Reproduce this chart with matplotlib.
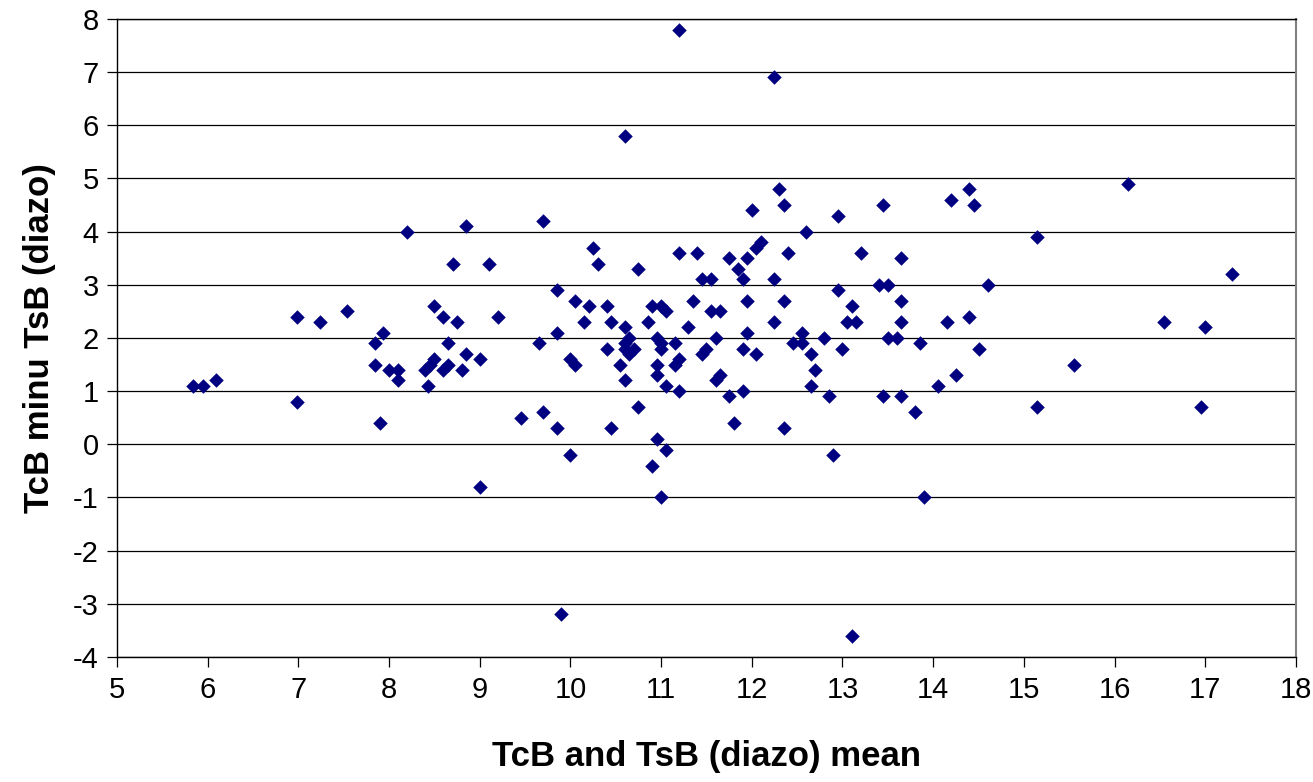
import matplotlib
matplotlib.use("Agg")
import matplotlib.pyplot as plt

# ── Data ──────────────────────────────────────────────────────────────────────

mean_vals = [
    5.84, 5.95, 6.09, 6.98, 6.98, 7.24, 7.54, 7.84, 7.93, 7.84,
    7.90, 8.00, 8.10, 8.10, 8.20, 8.40, 8.43, 8.50, 8.50, 8.45,
    8.60, 8.65, 8.65, 8.70, 8.60, 8.75, 8.80, 8.85, 8.85, 9.00,
    9.00, 9.10, 9.20, 9.45, 9.65, 9.70, 9.70, 9.85, 9.85, 9.85,
    9.90, 10.00, 10.00, 10.05, 10.05, 10.15, 10.20, 10.25, 10.30, 10.40,
    10.40, 10.45, 10.45, 10.55, 10.60, 10.60, 10.60, 10.60, 10.60, 10.65,
    10.65, 10.70, 10.75, 10.75, 10.85, 10.90, 10.90, 10.95, 10.95, 10.95,
    10.95, 11.00, 11.00, 11.00, 11.00, 11.05, 11.05, 11.05, 11.15, 11.15,
    11.20, 11.20, 11.20, 11.20, 11.30, 11.35, 11.40, 11.45, 11.45, 11.50,
    11.55, 11.55, 11.60, 11.60, 11.65, 11.65, 11.75, 11.75, 11.80, 11.85,
    11.90, 11.90, 11.90, 11.95, 11.95, 11.95, 12.00, 12.05, 12.05, 12.10,
    12.25, 12.25, 12.25, 12.30, 12.35, 12.35, 12.35, 12.40, 12.45, 12.55,
    12.55, 12.60, 12.65, 12.65, 12.70, 12.80, 12.85, 12.90, 12.95, 12.95,
    13.00, 13.05, 13.10, 13.10, 13.15, 13.20, 13.40, 13.45, 13.45, 13.50,
    13.50, 13.60, 13.65, 13.65, 13.65, 13.65, 13.80, 13.85, 13.90, 14.05,
    14.15, 14.20, 14.25, 14.40, 14.40, 14.45, 14.50, 14.60, 15.15, 15.15,
    15.55, 16.15, 16.55, 16.95, 17.00, 17.30,
]

diff_vals = [
    1.1, 1.1, 1.2, 2.4, 0.8, 2.3, 2.5, 1.9, 2.1, 1.5,
    0.4, 1.4, 1.4, 1.2, 4.0, 1.4, 1.1, 2.6, 1.6, 1.5,
    2.4, 1.5, 1.9, 3.4, 1.4, 2.3, 1.4, 1.7, 4.1, 1.6,
    -0.8, 3.4, 2.4, 0.5, 1.9, 4.2, 0.6, 2.9, 2.1, 0.3,
    -3.2, 1.6, -0.2, 2.7, 1.5, 2.3, 2.6, 3.7, 3.4, 2.6,
    1.8, 2.3, 0.3, 1.5, 2.2, 1.9, 1.2, 1.8, 5.8, 2.0,
    1.7, 1.8, 3.3, 0.7, 2.3, 2.6, -0.4, 2.0, 1.5, 1.3,
    0.1, 2.6, 1.9, 1.8, -1.0, 2.5, 1.1, -0.1, 1.9, 1.5,
    3.6, 1.6, 1.0, 7.8, 2.2, 2.7, 3.6, 3.1, 1.7, 1.8,
    2.5, 3.1, 2.0, 1.2, 2.5, 1.3, 0.9, 3.5, 0.4, 3.3,
    1.8, 1.0, 3.1, 3.5, 2.7, 2.1, 4.4, 3.7, 1.7, 3.8,
    3.1, 2.3, 6.9, 4.8, 4.5, 2.7, 0.3, 3.6, 1.9, 2.1,
    1.9, 4.0, 1.7, 1.1, 1.4, 2.0, 0.9, -0.2, 4.3, 2.9,
    1.8, 2.3, 2.6, -3.6, 2.3, 3.6, 3.0, 4.5, 0.9, 3.0,
    2.0, 2.0, 3.5, 2.7, 2.3, 0.9, 0.6, 1.9, -1.0, 1.1,
    2.3, 4.6, 1.3, 4.8, 2.4, 4.5, 1.8, 3.0, 3.9, 0.7,
    1.5, 4.9, 2.3, 0.7, 2.2, 3.2,
]

x_ticks = list(range(5, 19))
y_ticks = list(range(-4, 9))

x_label = "TcB and TsB (diazo) mean"
y_label = "TcB minu TsB (diazo)"

# ── Plot ──────────────────────────────────────────────────────────────────────

plt.rcParams['font.family'] = ['Liberation Sans', 'DejaVu Sans']
plt.rcParams['axes.unicode_minus'] = False

fig = plt.figure(figsize=(13.13, 7.82), dpi=100)
ax = fig.add_axes([0.0891, 0.160, 0.8979, 0.8157])

for yv in y_ticks:
    ax.axhline(yv, color='black', linewidth=0.9, zorder=1)

ax.scatter(mean_vals, diff_vals, marker='D', s=7.4 ** 2, color='#000080',
           linewidths=0, zorder=3)

ax.set_xlim(5, 18)
ax.set_ylim(-4, 8)
ax.set_xticks(x_ticks)
ax.set_yticks(y_ticks)
ax.tick_params(axis='both', direction='out', length=7, width=0.9,
               labelsize=21, color='black')
ax.tick_params(axis='x', pad=7)
ax.tick_params(axis='y', pad=6)

ax.spines['left'].set_color('black')
ax.spines['bottom'].set_color('black')
ax.spines['top'].set_color('black')
ax.spines['right'].set_color('#808080')
for sp in ax.spines.values():
    sp.set_linewidth(1.0)
ax.spines['right'].set_linewidth(1.5)

ax.set_xlabel(x_label, fontsize=25, fontweight='bold', labelpad=26)
ax.set_ylabel(y_label, fontsize=25, fontweight='bold', labelpad=12)

fig.savefig("out.png", dpi=100)
